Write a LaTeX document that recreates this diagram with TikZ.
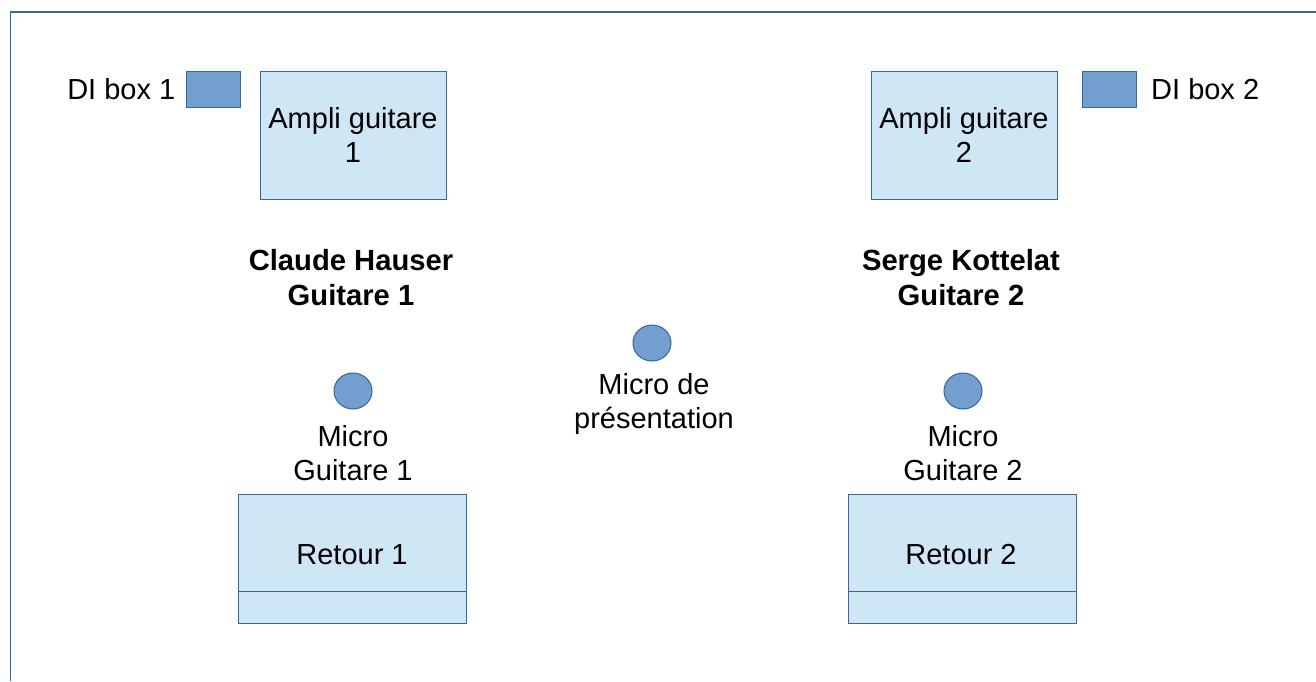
\documentclass[tikz,border=0pt]{standalone}
\usepackage{fontspec}
\setmainfont{Liberation Sans}
\usetikzlibrary{shapes.geometric}
\definecolor{bordc}{HTML}{3465A4}
\definecolor{lightc}{HTML}{CFE7F5}
\definecolor{dic}{HTML}{729FCF}
\begin{document}
\begin{tikzpicture}[x=1pt,y=-1pt,
  box/.style={draw=bordc, fill=lightc, line width=1pt, inner sep=0pt, outer sep=0pt, anchor=north west, align=center, font=\fontsize{29}{34}\selectfont},
  dibox/.style={draw=bordc, fill=dic, line width=1pt, inner sep=0pt, outer sep=0pt, anchor=north west, minimum width=54pt, minimum height=36pt},
  mic/.style={draw=bordc, fill=dic, line width=1pt, ellipse, inner sep=0pt, minimum width=38pt, minimum height=36pt},
  lbl/.style={inner sep=0pt, align=center, font=\fontsize{29}{34}\selectfont},
  blbl/.style={inner sep=0pt, align=center, font=\fontsize{29.2}{35}\selectfont\bfseries}]
\useasboundingbox (0,0) rectangle (1316,681);
\fill[white] (0,0) rectangle (1316,681);
% frame
\coordinate (fbl) at (10.5,681);
\coordinate (ftl) at (10.5,12);
\coordinate (ftr) at (1316,12);
\draw[bordc, line width=1.3pt] (fbl) -- (ftl) -- (ftr);
% DI boxes
\node[dibox] (di1) at (186,71) {};
\node[dibox] (di2) at (1082,71) {};
\node[lbl, anchor=east] (di1l) at (175.5,89) {DI box 1};
\node[lbl, anchor=west] (di2l) at (1151,89) {DI box 2};
% amps
\node[box, minimum width=186pt, minimum height=128pt] (amp1) at (260,71) {Ampli guitare\\1};
\node[box, minimum width=186pt, minimum height=128pt] (amp2) at (871,71) {Ampli guitare\\2};
% names
\node[blbl] (n1) at (351,278) {Claude Hauser\\Guitare 1};
\node[blbl] (n2) at (961,278) {Serge Kottelat\\Guitare 2};
% mics
\node[mic] (m1) at (353,391) {};
\node[mic] (m0) at (652,343) {};
\node[mic] (m2) at (963,391) {};
\node[lbl] (m1l) at (353,453.5) {Micro\\Guitare 1};
\node[lbl] (m0l) at (654,404) {Micro de\\présentation};
\node[lbl] (m2l) at (963,453.5) {Micro\\Guitare 2};
% retours
\node[box, minimum width=228pt, minimum height=129pt] (r1) at (238,494) {};
\node[box, minimum width=228pt, minimum height=129pt] (r2) at (848,494) {};
\draw[bordc, line width=1pt] ([yshift=32pt]r1.south west) -- ([yshift=32pt]r1.south east);
\draw[bordc, line width=1pt] ([yshift=32pt]r2.south west) -- ([yshift=32pt]r2.south east);
\node[lbl] (r1l) at (352,555) {Retour 1};
\node[lbl] (r2l) at (961,555) {Retour 2};
\end{tikzpicture}
\end{document}
